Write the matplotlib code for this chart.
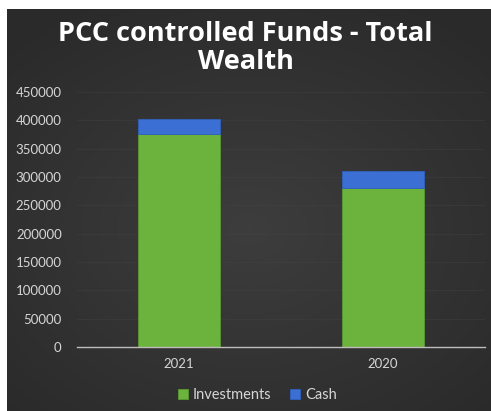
import numpy as np
import matplotlib.pyplot as plt

years = ["2021", "2020"]
investments = [375000, 280000]
cash = [27000, 31000]
yticks = [0, 50000, 100000, 150000, 200000, 250000, 300000, 350000, 400000, 450000]

fig = plt.figure(figsize=(4.91, 4.11), dpi=100)
fig.patch.set_facecolor("white")

# dark slide background with a soft lighter centre
bg = fig.add_axes([7 / 491, 0, 484 / 491, 1 - 9 / 411])
yy, xx = np.mgrid[-1:1:200j, -1:1:240j]
r = np.sqrt((xx * 0.9) ** 2 + ((yy - 0.1) * 1.0) ** 2)
shade = 0.24 - 0.075 * np.clip(r, 0, 1.3) / 1.3
bg.imshow(np.dstack([shade] * 3), aspect="auto", extent=[0, 1, 0, 1])
bg.set_axis_off()

ax = fig.add_axes([77 / 491, 1 - 347 / 411, 408 / 491, 255 / 411])
ax.set_facecolor("none")
x = np.arange(len(years))
ax.bar(x, investments, width=0.4, color="#6cb33e", edgecolor="#5a9a33",
       linewidth=0.6, label="Investments", zorder=3)
ax.bar(x, cash, width=0.4, bottom=investments, color="#3b6fd4",
       edgecolor="#3060bf", linewidth=0.6, label="Cash", zorder=3)

ax.set_xlim(-0.5, 1.5)
ax.set_ylim(0, 450000)
ax.set_yticks(yticks)
ax.set_yticklabels([str(v) for v in yticks])
ax.set_xticks(x)
ax.set_xticklabels(years)
ax.tick_params(axis="both", length=0, colors="#d6d6d6", labelsize=9.5)
ax.tick_params(axis="y", pad=11)
ax.tick_params(axis="x", pad=8)
for lab in ax.get_xticklabels() + ax.get_yticklabels():
    lab.set_fontfamily("Lato")
ax.grid(axis="y", color="#444444", linewidth=0.6, alpha=0.45, zorder=0)
for s in ["top", "right", "left"]:
    ax.spines[s].set_visible(False)
ax.spines["bottom"].set_color("#bdbdbd")
ax.spines["bottom"].set_linewidth(1.0)
ax.spines["bottom"].set_zorder(4)

fig.text(0.5, 1 - 48 / 411, "PCC controlled Funds - Total\nWealth", ha="center",
         va="center", color="white", fontsize=19.5, fontweight="bold",
         family="Open Sans", linespacing=1.08)

leg = fig.legend(loc="center", bbox_to_anchor=(0.524, 1 - 395 / 411), ncol=2,
                 frameon=False, handlelength=0.7, handleheight=0.7,
                 handletextpad=0.3, columnspacing=1.3,
                 prop={"family": "Lato", "size": 10.5})
for t in leg.get_texts():
    t.set_color("#d6d6d6")

fig.savefig("out.png", dpi=100)
